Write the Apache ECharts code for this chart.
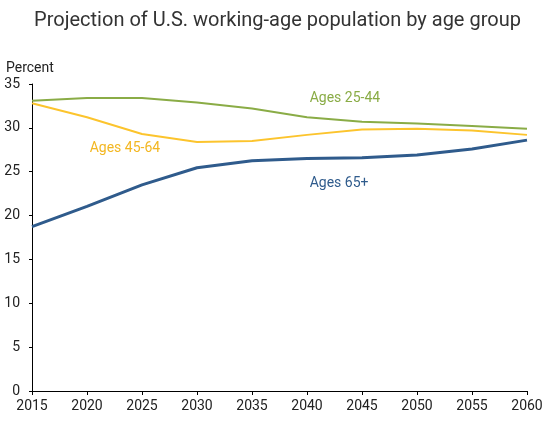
<!DOCTYPE html>
<html>
<head>
    <meta charset="utf-8">
    <title>working-age population</title>
    <style>
        html, body { margin: 0; padding: 0; background: #fff; }
    </style>
</head>
<body>
<div id="main" style="width: 555px;height:428px;"></div>

<script src="https://cdn.jsdelivr.net/npm/echarts@6/dist/echarts.min.js"></script>
<script>
    // 年份与各年龄组占比（百分比）
    var years = [2015, 2020, 2025, 2030, 2035, 2040, 2045, 2050, 2055, 2060];
    var ages2544 = [33.1, 33.4, 33.4, 32.9, 32.2, 31.2, 30.7, 30.5, 30.2, 29.9];
    var ages4564 = [32.8, 31.2, 29.3, 28.4, 28.5, 29.2, 29.8, 29.9, 29.7, 29.2];
    var ages65 = [18.75, 21.05, 23.5, 25.45, 26.25, 26.5, 26.6, 26.9, 27.6, 28.6];
    var yTicks = [0, 5, 10, 15, 20, 25, 30, 35];

    var pairs = function (ys) {
        var d = [];
        for (var i = 0; i < years.length; i++) {
            d.push([years[i], ys[i]]);
        }
        return d;
    };

    // 线上的文字标注
    var tag = function (text, coord, color) {
        return {
            symbol: 'circle',
            symbolSize: 1,
            silent: true,
            itemStyle: { color: 'rgba(0,0,0,0)' },
            data: [{
                coord: coord,
                label: {
                    show: true,
                    formatter: text,
                    position: 'right',
                    distance: 0,
                    color: color,
                    fontFamily: 'Roboto',
                    fontSize: 14
                }
            }]
        };
    };

    var myChart = echarts.init(document.getElementById('main'));

    var option = {
        animation: false,
        textStyle: { fontFamily: 'Roboto' },
        title: {
            text: 'Projection of U.S. working-age population by age group',
            left: 'center',
            top: 6,
            textStyle: {
                fontFamily: 'Roboto',
                fontSize: 20,
                fontWeight: 'normal',
                color: '#333'
            }
        },
        grid: {
            left: 32,
            right: 28,
            top: 84,
            bottom: 37,
            containLabel: false
        },
        xAxis: {
            type: 'value',
            min: 2015,
            max: 2060,
            interval: 5,
            axisLine: { lineStyle: { color: '#000', width: 1 } },
            axisTick: { show: true, length: 4, lineStyle: { color: '#000' } },
            axisLabel: {
                color: '#222', fontSize: 14, margin: 8,
                formatter: function (v) { return String(v); }
            },
            splitLine: { show: false }
        },
        yAxis: {
            type: 'value',
            min: yTicks[0],
            max: yTicks[yTicks.length - 1],
            interval: 5,
            name: 'Percent',
            nameLocation: 'end',
            nameGap: 9,
            nameTextStyle: { color: '#222', fontSize: 14, align: 'left', padding: [0, 0, 0, -26] },
            axisLine: { show: true, lineStyle: { color: '#000', width: 1 } },
            axisTick: { show: true, length: 3, lineStyle: { color: '#000' } },
            axisLabel: { color: '#222', fontSize: 14, margin: 12 },
            splitLine: { show: false }
        },
        series: [
            {
                name: 'Ages 25-44',
                type: 'line',
                data: pairs(ages2544),
                symbol: 'none',
                lineStyle: { color: '#8aac46', width: 2 },
                itemStyle: { color: '#8aac46' },
                markPoint: tag('Ages 25-44', [2040.2, 33.4], '#8aac46')
            },
            {
                name: 'Ages 45-64',
                type: 'line',
                data: pairs(ages4564),
                symbol: 'none',
                lineStyle: { color: '#fcc42d', width: 2 },
                itemStyle: { color: '#fcc42d' },
                markPoint: tag('Ages 45-64', [2020.2, 27.6], '#f3b722')
            },
            {
                name: 'Ages 65+',
                type: 'line',
                data: pairs(ages65),
                symbol: 'none',
                lineStyle: { color: '#2f5b8c', width: 3 },
                itemStyle: { color: '#2f5b8c' },
                markPoint: tag('Ages 65+', [2040.2, 23.7], '#2f5b8c')
            }
        ]
    };

    myChart.setOption(option);
</script>
</body>
</html>
